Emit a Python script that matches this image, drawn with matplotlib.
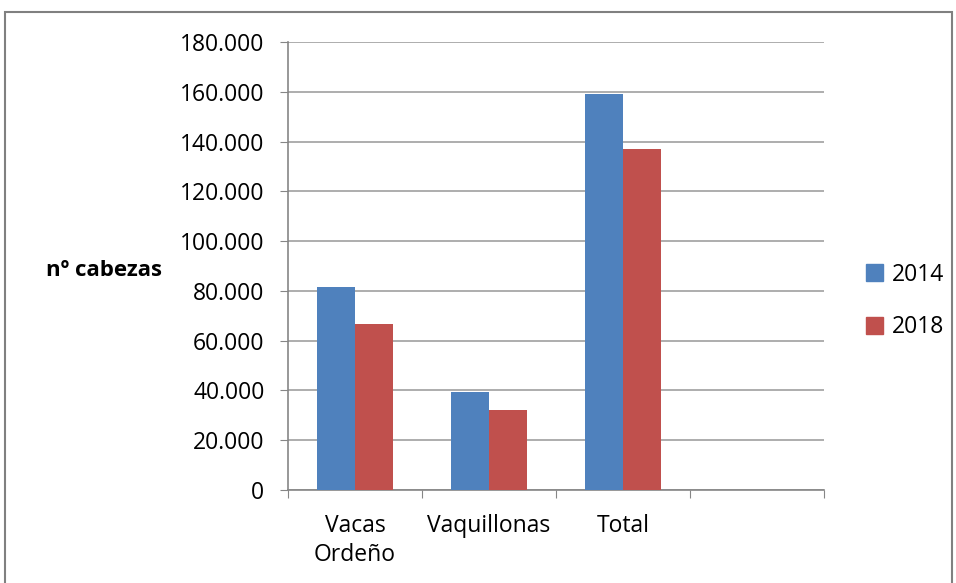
import matplotlib
matplotlib.use("Agg")
import matplotlib.pyplot as plt
import numpy as np
from matplotlib.patches import Rectangle

categories = ["Vacas\nOrdeño", "Vaquillonas", "Total", ""]
series_names = ["2014", "2018"]
values_2014 = [81600, 39200, 159300, np.nan]
values_2018 = [66500, 32000, 137200, np.nan]
yticks = [0, 20000, 40000, 60000, 80000, 100000, 120000, 140000, 160000, 180000]
ytick_labels = ["0", "20.000", "40.000", "60.000", "80.000", "100.000",
                "120.000", "140.000", "160.000", "180.000"]

colors = ["#4F81BD", "#C0504D"]
plt.rcParams['font.family'] = ['Open Sans', 'DejaVu Sans']

fig = plt.figure(figsize=(9.56, 5.83), dpi=100)
ax = fig.add_axes([288/956, 1-490/583, (824-288)/956, (490-42)/583])

x = np.arange(len(categories))
w = 0.287
ax.bar(x - w/2, values_2014, w, color=colors[0], label=series_names[0], edgecolor='none', zorder=3)
ax.bar(x + w/2, values_2018, w, color=colors[1], label=series_names[1], edgecolor='none', zorder=3)

fs = 16.5
ax.set_xlim(-0.5, len(categories) - 0.5)
ax.set_ylim(0, 180000)
ax.set_yticks(yticks)
ax.set_yticklabels(ytick_labels, fontsize=fs)
ax.yaxis.grid(True, color='#A0A0A0', linewidth=1.2, zorder=0)
ax.set_xticks(np.arange(len(categories) + 1) - 0.5)
ax.set_xticklabels([])
ax.set_xticks(x, minor=True)
ax.set_xticklabels(categories, minor=True, fontsize=fs, linespacing=1.3)
ax.tick_params(axis='x', which='minor', length=0, pad=17)
ax.tick_params(axis='x', which='major', length=6, direction='out', color='#868686')
ax.tick_params(axis='y', length=6, direction='out', color='#868686', pad=11)
for s in ['top', 'right']:
    ax.spines[s].set_visible(False)
for s in ['left', 'bottom']:
    ax.spines[s].set_color('#868686')
    ax.spines[s].set_linewidth(1.2)

fig.text(46/956, 1-270/583, "nº cabezas", fontsize=16, fontweight='bold', va='center', ha='left')

handles = [Rectangle((0, 0), 1, 1, color=c) for c in colors]
fig.legend(handles, series_names, loc='center left', bbox_to_anchor=(845/956, 1-301/583),
           frameon=False, fontsize=fs, handlelength=0.75, handleheight=0.75,
           handletextpad=0.4, labelspacing=1.25)

fig.add_artist(Rectangle((5/956, -0.1), (952-5)/956, 1.1 - 12/583, transform=fig.transFigure,
                         fill=False, edgecolor='#808080', linewidth=1.5))

fig.savefig("out.png", dpi=100)
